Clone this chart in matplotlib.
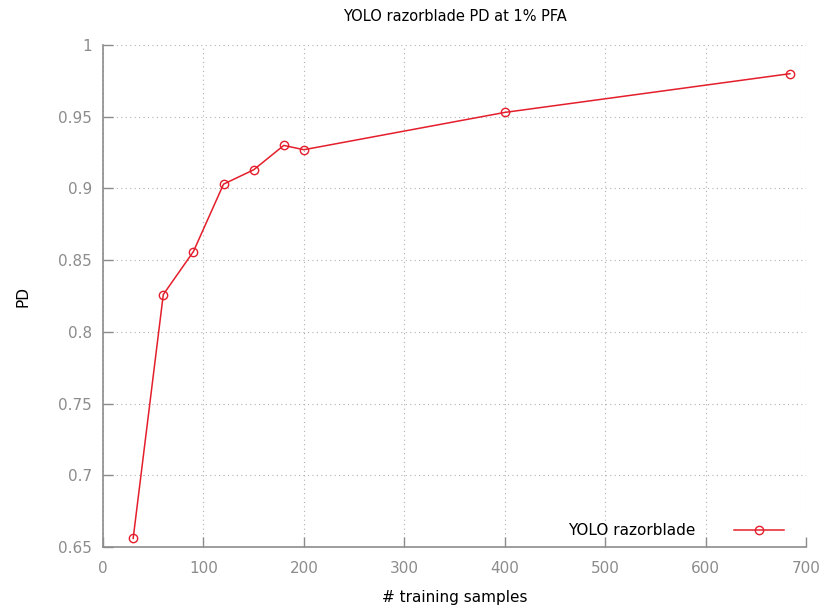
import matplotlib
matplotlib.use("Agg")
import matplotlib.pyplot as plt

# training samples vs PD
samples = [30, 60, 90, 120, 150, 180, 200, 400, 684]
pd_values = [0.656, 0.826, 0.856, 0.903, 0.913, 0.930, 0.927, 0.953, 0.980]

x_ticks = [0, 100, 200, 300, 400, 500, 600, 700]
y_ticks = [0.65, 0.7, 0.75, 0.8, 0.85, 0.9, 0.95, 1.0]
y_labels = ["0.65", "0.7", "0.75", "0.8", "0.85", "0.9", "0.95", "1"]

red = "#e41e2b"
gray = "#8c8c8c"

plt.rcParams["font.family"] = "DejaVu Sans"

fig = plt.figure(figsize=(8.23, 6.06), dpi=100)
ax = fig.add_axes([0.1252, 0.0974, 0.8541, 0.8283])

ax.plot(samples, pd_values, color=red, linewidth=1.1, marker="o",
        markersize=6, markerfacecolor="none", markeredgecolor=red,
        markeredgewidth=1.0, label="YOLO razorblade")

ax.set_xlim(0, 700)
ax.set_ylim(0.65, 1.0)
ax.set_xticks(x_ticks)
ax.set_yticks(y_ticks)
ax.set_yticklabels(y_labels)

ax.grid(True, linestyle=(0, (1, 3)), color="#b0b0b0", linewidth=0.8)
ax.set_axisbelow(True)

for side in ["top", "right"]:
    ax.spines[side].set_visible(False)
for side in ["left", "bottom"]:
    ax.spines[side].set_color(gray)
    ax.spines[side].set_linewidth(1.2)

ax.tick_params(direction="in", length=7, width=1.0, color=gray,
               labelcolor=gray, labelsize=11, pad=8)
ax.tick_params(axis="x", pad=10)

ax.set_xlabel("# training samples", fontsize=11, labelpad=10)
ax.set_ylabel("PD", fontsize=11, labelpad=20)
ax.set_title("YOLO razorblade PD at 1% PFA", fontsize=10.5, pad=17)

leg = ax.legend(loc="lower right", bbox_to_anchor=(0.978, 0.006),
                frameon=False, fontsize=11, markerfirst=False,
                handlelength=3.3, handletextpad=2.5, borderaxespad=0)

fig.savefig("out.png", dpi=100)
